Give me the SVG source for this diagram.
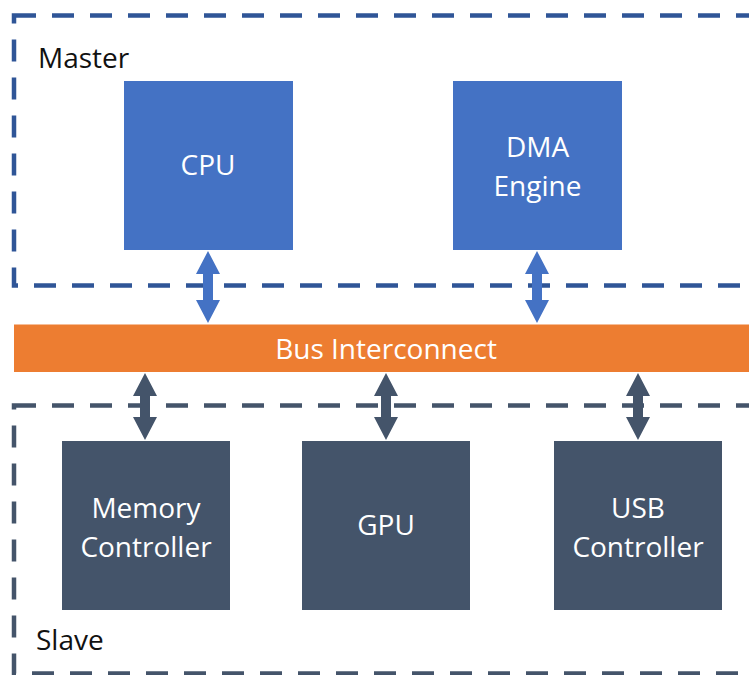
<svg xmlns="http://www.w3.org/2000/svg" width="749" height="675" viewBox="0 0 749 675">
<style>
.grp{fill:none;stroke-width:4.5;stroke-dasharray:22 16}
.m{stroke:#2F5597}
.s{stroke:#44546A}
.lbl{font-family:"Open Sans","Noto Sans",sans-serif;font-size:28px;fill:#111}
.nt{font-family:"Open Sans","Noto Sans",sans-serif;font-size:28px;fill:#fff;text-anchor:middle}
.blue{fill:#4472C4}
.slate{fill:#44546A}
.arrB{fill:#4472C4}
.arrS{fill:#44546A}
</style>
<rect width="749" height="675" fill="#fff"/>
<g id="master-group">
<rect class="grp m" x="14" y="15.5" width="760" height="270"/>
<text class="lbl" x="38" y="67.5">Master</text>
</g>
<g id="slave-group">
<rect class="grp s" x="14" y="405.5" width="760" height="268"/>
<text class="lbl" x="36" y="650">Slave</text>
</g>
<g id="cpu">
<rect class="blue" x="124" y="81" width="169" height="169"/>
<text class="nt" x="208" y="175">CPU</text>
</g>
<g id="dma">
<rect class="blue" x="453" y="81" width="169" height="169"/>
<text class="nt" x="537.5" y="156.5">DMA</text>
<text class="nt" x="537.5" y="195.5">Engine</text>
</g>
<g id="bus">
<rect fill="#ED7D31" x="14" y="324.5" width="750" height="47.5"/>
<text class="nt" x="386" y="358.5">Bus Interconnect</text>
</g>
<g id="memctrl">
<rect class="slate" x="62" y="441" width="168" height="169"/>
<text class="nt" x="146" y="518">Memory</text>
<text class="nt" x="146" y="556.5">Controller</text>
</g>
<g id="gpu">
<rect class="slate" x="302" y="441" width="168" height="169"/>
<text class="nt" x="386" y="535">GPU</text>
</g>
<g id="usb">
<rect class="slate" x="554" y="441" width="168" height="169"/>
<text class="nt" x="638" y="518">USB</text>
<text class="nt" x="638" y="556.5">Controller</text>
</g>
<g id="connectors">
<polygon class="arrB" points="208,251 220,274 213,274 213,300 220,300 208,323 196,300 203,300 203,274 196,274"/>
<polygon class="arrB" points="537,251 549,274 542,274 542,300 549,300 537,323 525,300 532,300 532,274 525,274"/>
<polygon class="arrS" points="145,373 157,396 150,396 150,417 157,417 145,440 133,417 140,417 140,396 133,396"/>
<polygon class="arrS" points="386,373 398,396 391,396 391,417 398,417 386,440 374,417 381,417 381,396 374,396"/>
<polygon class="arrS" points="638,373 650,396 643,396 643,417 650,417 638,440 626,417 633,417 633,396 626,396"/>
</g>
</svg>
